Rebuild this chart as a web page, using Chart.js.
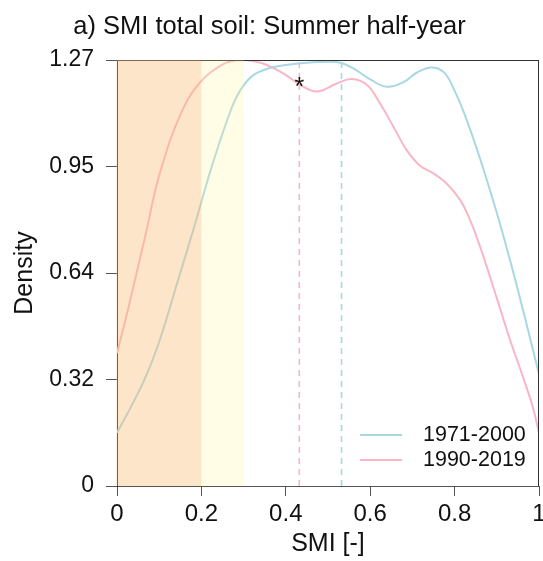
<!DOCTYPE html>
<html><head><meta charset="utf-8">
<script src="https://cdn.jsdelivr.net/npm/chart.js@4"></script>
<style>html,body{margin:0;padding:0;background:#fff}#wrap{width:543px;height:561px}</style>
</head><body><div id="wrap"><canvas id="c" width="543" height="561"></canvas></div>
<script>
const titleText = 'a) SMI total soil: Summer half-year';
const xAxisTitle = 'SMI [-]';
const yAxisTitle = 'Density';
const seriesNames = ['1971-2000', '1990-2019'];
const xTicks = [0, 0.2, 0.4, 0.6, 0.8, 1];
const xTickLabels = ['0', '0.2', '0.4', '0.6', '0.8', '1'];
const yTicks = [0, 0.3175, 0.635, 0.9525, 1.27];
const yTickLabels = ['0', '0.32', '0.64', '0.95', '1.27'];

const xBlue = [0, 0.033, 0.066, 0.10, 0.145, 0.18, 0.224, 0.268, 0.29, 0.32, 0.36, 0.40, 0.45, 0.50, 0.53, 0.56, 0.60, 0.64, 0.68, 0.71, 0.745, 0.775, 0.80, 0.821, 0.844, 0.868, 0.892, 0.912, 0.935, 0.955, 0.979, 1.0];
const densBlue = [0.159, 0.236, 0.32, 0.43, 0.615, 0.76, 0.95, 1.115, 1.175, 1.222, 1.245, 1.255, 1.262, 1.265, 1.262, 1.245, 1.212, 1.19, 1.205, 1.232, 1.248, 1.233, 1.178, 1.117, 1.037, 0.946, 0.848, 0.762, 0.656, 0.56, 0.44, 0.333];

const xPink = [0, 0.025, 0.047, 0.07, 0.102, 0.157, 0.204, 0.252, 0.29, 0.325, 0.355, 0.394, 0.434, 0.473, 0.521, 0.556, 0.592, 0.623, 0.655, 0.686, 0.718, 0.75, 0.781, 0.813, 0.836, 0.86, 0.9, 0.931, 0.962, 0.986, 1.0];
const densPink = [0.396, 0.521, 0.638, 0.762, 0.935, 1.126, 1.213, 1.258, 1.27, 1.266, 1.255, 1.23, 1.196, 1.176, 1.2, 1.213, 1.196, 1.141, 1.071, 1.002, 0.955, 0.932, 0.902, 0.853, 0.795, 0.715, 0.56, 0.437, 0.325, 0.232, 0.157];

const meanBlue = 0.532;
const meanPink = 0.432;
const bandDry = [0, 0.2];
const bandModerate = [0.2, 0.3];
const starX = 0.432, starY = 1.20;
const yMax = 1.27;

const FONT = "'Liberation Sans', Arial, Helvetica, sans-serif";
const BLUE = '#a9d7e3';
const PINK = '#f8b6c6';
const BOX = '#333';

Chart.defaults.font.family = FONT;

const toPts = (xs, ys) => xs.map((x, i) => ({x: x, y: ys[i]}));

const overlayPlugin = {
  id: 'overlay',
  afterDraw(chart) {
    const ctx = chart.ctx, a = chart.chartArea;
    const xs = chart.scales.x, ys = chart.scales.y;
    ctx.save();
    ctx.strokeStyle = BOX; ctx.lineWidth = 1;
    ctx.beginPath();
    ctx.moveTo(a.left, a.top + 0.5); ctx.lineTo(a.right, a.top + 0.5);
    ctx.moveTo(a.right - 0.5, a.top); ctx.lineTo(a.right - 0.5, a.bottom);
    ctx.stroke();
    ctx.fillStyle = 'rgba(250,190,120,0.4)';
    let x0 = xs.getPixelForValue(bandDry[0]), x1 = xs.getPixelForValue(bandDry[1]);
    ctx.fillRect(x0 - 0.5, a.top, x1 - x0 + 0.5, a.bottom - a.top);
    ctx.fillStyle = 'rgba(255,245,140,0.22)';
    x0 = xs.getPixelForValue(bandModerate[0]); x1 = xs.getPixelForValue(bandModerate[1]);
    ctx.fillRect(x0, a.top, x1 - x0, a.bottom - a.top);
    ctx.fillStyle = '#111';
    ctx.font = '25px ' + FONT;
    ctx.textAlign = 'center'; ctx.textBaseline = 'middle';
    ctx.fillText('*', xs.getPixelForValue(starX), ys.getPixelForValue(starY) + 5);
    const lx0 = 360, lx1 = 402, tx = 423;
    const rows = [[seriesNames[0], BLUE, 435], [seriesNames[1], PINK, 460]];
    ctx.font = '21.5px ' + FONT;
    ctx.textAlign = 'left';
    rows.forEach(r => {
      ctx.strokeStyle = r[1]; ctx.lineWidth = 2;
      ctx.beginPath(); ctx.moveTo(lx0, r[2]); ctx.lineTo(lx1, r[2]); ctx.stroke();
      ctx.fillStyle = '#111';
      ctx.fillText(r[0], tx, r[2]);
    });
    ctx.restore();
  }
};

new Chart(document.getElementById('c'), {
  type: 'scatter',
  data: {
    datasets: [
      {label: seriesNames[0], data: toPts(xBlue, densBlue), showLine: true, borderColor: BLUE, borderWidth: 2, pointRadius: 0, tension: 0.4},
      {label: seriesNames[1], data: toPts(xPink, densPink), showLine: true, borderColor: PINK, borderWidth: 2, pointRadius: 0, tension: 0.4},
      {label: 'mean ' + seriesNames[0], data: [{x: meanBlue, y: 0}, {x: meanBlue, y: yMax}], showLine: true, borderColor: BLUE, borderWidth: 1.6, borderDash: [6, 5], pointRadius: 0},
      {label: 'mean ' + seriesNames[1], data: [{x: meanPink, y: 0}, {x: meanPink, y: yMax}], showLine: true, borderColor: PINK, borderWidth: 1.6, borderDash: [6, 5], pointRadius: 0}
    ]
  },
  options: {
    responsive: false,
    animation: false,
    devicePixelRatio: 1,
    layout: {padding: {left: 0, right: 4, top: 0, bottom: 0}},
    plugins: {
      legend: {display: false},
      tooltip: {enabled: false},
      title: {
        display: true, text: titleText, color: '#111',
        font: {size: 25.5, weight: 'normal', family: FONT},
        padding: {top: 12, bottom: 17.4}
      }
    },
    scales: {
      x: {
        type: 'linear', min: 0, max: 1,
        afterBuildTicks: s => { s.ticks = xTicks.map(v => ({value: v})); },
        afterFit: s => { s.height = 75; s.paddingLeft = 0; s.paddingRight = 0; },
        ticks: {callback: (v, i) => xTickLabels[i], color: '#111', font: {size: 24}, padding: 4, maxRotation: 0, autoSkip: false},
        grid: {drawOnChartArea: false, drawTicks: true, tickLength: 10, color: '#555', tickColor: '#555'},
        border: {display: true, color: '#555', width: 1},
        title: {display: true, text: xAxisTitle, color: '#111', font: {size: 25}, padding: {top: 0, bottom: 2}}
      },
      y: {
        type: 'linear', min: 0, max: yMax,
        afterBuildTicks: s => { s.ticks = yTicks.map(v => ({value: v})); },
        afterFit: s => { s.width = 117; s.paddingTop = 0; s.paddingBottom = 0; },
        ticks: {callback: (v, i) => yTickLabels[i], color: '#111', font: {size: 23}, padding: 12, autoSkip: false},
        grid: {drawOnChartArea: false, drawTicks: true, tickLength: 11, color: '#555', tickColor: '#555'},
        border: {display: true, color: '#222', width: 1},
        title: {display: true, text: yAxisTitle, color: '#111', font: {size: 25}, padding: {top: 10, bottom: 0}}
      }
    }
  },
  plugins: [overlayPlugin]
});
</script>
</body></html>
